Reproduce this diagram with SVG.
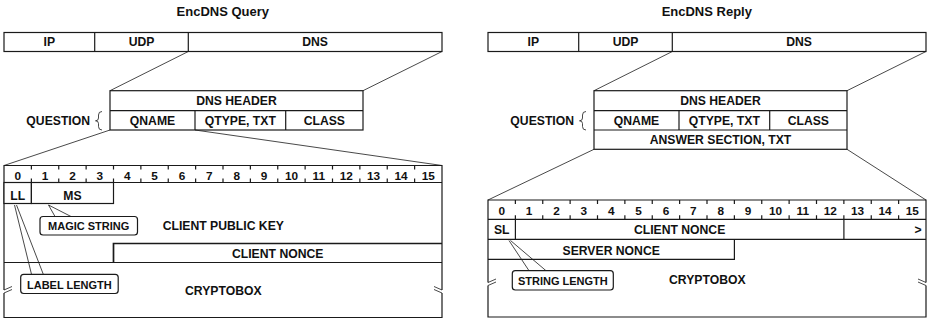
<svg xmlns="http://www.w3.org/2000/svg" width="928" height="320" viewBox="0 0 928 320">
<style>
.ln{stroke:#1a1a1a;fill:none;stroke-width:1.2}
.bx{stroke:#1a1a1a;fill:#fff;stroke-width:1.2}
.th{stroke:#1a1a1a;fill:none;stroke-width:0.8}
.tk{stroke:#1a1a1a;fill:none;stroke-width:1.2}
.hv{stroke:#1a1a1a;fill:none;stroke-width:1.7}
.t{font-family:"Liberation Sans",Arial,Helvetica,sans-serif;font-weight:bold;font-size:12.2px;text-anchor:middle;fill:#111}
.ti{font-size:13px}
.n{font-size:11.8px}
.s{font-size:11px}
.e{text-anchor:end}
</style>
<rect width="928" height="320" fill="#fff"/>

<!-- ================= QUERY ================= -->
<g id="query-title"><text class="t ti" x="222.8" y="16">EncDNS Query</text></g>
<g id="query-packet">
  <rect class="bx" x="4" y="32.5" width="438" height="19"/>
  <line class="ln" x1="94.7" y1="32.5" x2="94.7" y2="51.5"/>
  <line class="ln" x1="188.3" y1="32.5" x2="188.3" y2="51.5"/>
  <text class="t" x="49.3" y="46.3">IP</text>
  <text class="t" x="141.5" y="46.3">UDP</text>
  <text class="t" x="315" y="46.3">DNS</text>
</g>
<g id="query-dns">
  <rect class="bx" x="110" y="90.7" width="253" height="39.3"/>
  <line class="ln" x1="110" y1="110.7" x2="363" y2="110.7"/>
  <line class="ln" x1="195" y1="110.7" x2="195" y2="130"/>
  <line class="ln" x1="285.7" y1="110.7" x2="285.7" y2="130"/>
  <text class="t" x="236.5" y="105">DNS HEADER</text>
  <text class="t" x="152.5" y="124.6">QNAME</text>
  <text class="t" x="240.3" y="124.6">QTYPE, TXT</text>
  <text class="t" x="324.3" y="124.6">CLASS</text>
</g>
<g id="query-question">
  <text class="t e" x="90" y="124.6">QUESTION</text>
  <path class="th" d="M102,111.5 Q98.5,111.5 98.5,115 L98.5,118 Q98.5,120.8 95.5,120.8 Q98.5,120.8 98.5,123.6 L98.5,126.6 Q98.5,130 102,130"/>
</g>
<g id="query-qname">
  <path class="ln" d="M4,290 V165.5 H442 V290 M4,293 V317.5 H442 V293"/>
  <path class="th" d="M4,290 L12,286.5 M4,293 L12,289.5 M442,290 L434,286.5 M442,293 L434,289.5"/>
  <line class="ln" x1="4" y1="182.5" x2="442" y2="182.5"/>
  <path class="tk" d="M31.375,165.5v4M58.75,165.5v4M86.125,165.5v4M113.5,165.5v4M140.875,165.5v4M168.25,165.5v4M195.625,165.5v4M223,165.5v4M250.375,165.5v4M277.75,165.5v4M305.125,165.5v4M332.5,165.5v4M359.875,165.5v4M387.25,165.5v4M414.625,165.5v4M31.375,182.5v-4M58.75,182.5v-4M86.125,182.5v-4M113.5,182.5v-4M140.875,182.5v-4M168.25,182.5v-4M195.625,182.5v-4M223,182.5v-4M250.375,182.5v-4M277.75,182.5v-4M305.125,182.5v-4M332.5,182.5v-4M359.875,182.5v-4M387.25,182.5v-4M414.625,182.5v-4"/>
  <g class="t n">
    <text x="17.69" y="179.5">0</text><text x="45.06" y="179.5">1</text><text x="72.44" y="179.5">2</text><text x="99.81" y="179.5">3</text>
    <text x="127.19" y="179.5">4</text><text x="154.56" y="179.5">5</text><text x="181.94" y="179.5">6</text><text x="209.31" y="179.5">7</text>
    <text x="236.69" y="179.5">8</text><text x="264.06" y="179.5">9</text><text x="291.44" y="179.5">10</text><text x="318.81" y="179.5">11</text>
    <text x="346.19" y="179.5">12</text><text x="373.56" y="179.5">13</text><text x="400.94" y="179.5">14</text><text x="428.31" y="179.5">15</text>
  </g>
</g>
<g id="query-ll">
  <rect class="bx" x="4" y="182.5" width="27.4" height="21"/>
  <text class="t" x="17.7" y="200">LL</text>
</g>
<g id="query-ms">
  <rect class="bx" x="31.4" y="182.5" width="82.1" height="21"/>
  <text class="t" x="72.5" y="200">MS</text>
</g>
<g id="query-pubkey"><text class="t" x="223.3" y="230">CLIENT PUBLIC KEY</text></g>
<g id="query-nonce">
  <path class="hv" d="M113.5,262.5 V243.5 H442"/>
  <line class="ln" x1="4" y1="262.5" x2="442" y2="262.5"/>
  <text class="t" x="277.7" y="258">CLIENT NONCE</text>
</g>
<g id="query-cryptobox"><text class="t" x="223.3" y="295">CRYPTOBOX</text></g>
<g id="query-magic-label">
  <rect class="bx" x="40" y="216.5" width="97.5" height="18.5" rx="3"/>
  <text class="t s" x="88.7" y="230">MAGIC STRING</text>
</g>
<g id="query-length-label">
  <rect class="bx" x="20.7" y="274.3" width="97.5" height="19.2" rx="3"/>
  <text class="t s" x="69.4" y="288.5">LABEL LENGTH</text>
</g>

<!-- ================= REPLY ================= -->
<g id="reply-title"><text class="t ti" x="706.8" y="16">EncDNS Reply</text></g>
<g id="reply-packet">
  <rect class="bx" x="488" y="32.5" width="438" height="19"/>
  <line class="ln" x1="578.7" y1="32.5" x2="578.7" y2="51.5"/>
  <line class="ln" x1="672.3" y1="32.5" x2="672.3" y2="51.5"/>
  <text class="t" x="533.3" y="46.3">IP</text>
  <text class="t" x="625.5" y="46.3">UDP</text>
  <text class="t" x="799" y="46.3">DNS</text>
</g>
<g id="reply-dns">
  <rect class="bx" x="594" y="90.7" width="253" height="58.6"/>
  <line class="ln" x1="594" y1="110.7" x2="847" y2="110.7"/>
  <line class="ln" x1="594" y1="130" x2="847" y2="130"/>
  <line class="ln" x1="679" y1="110.7" x2="679" y2="130"/>
  <line class="ln" x1="769.7" y1="110.7" x2="769.7" y2="130"/>
  <text class="t" x="720.5" y="105">DNS HEADER</text>
  <text class="t" x="636.5" y="124.6">QNAME</text>
  <text class="t" x="724.3" y="124.6">QTYPE, TXT</text>
  <text class="t" x="808.3" y="124.6">CLASS</text>
  <text class="t" x="720.5" y="144">ANSWER SECTION, TXT</text>
</g>
<g id="reply-question">
  <text class="t e" x="574" y="124.6">QUESTION</text>
  <path class="th" d="M586,111.5 Q582.5,111.5 582.5,115 L582.5,118 Q582.5,120.8 579.5,120.8 Q582.5,120.8 582.5,123.6 L582.5,126.6 Q582.5,130 586,130"/>
</g>
<g id="reply-txt">
  <path class="ln" d="M488,282.5 V200 H926 V282.5 M488,285.5 V317 H926 V285.5"/>
  <path class="th" d="M488,282.5 L496,279 M488,285.5 L496,282 M926,282.5 L918,279 M926,285.5 L918,282"/>
  <line class="ln" x1="488" y1="219.3" x2="926" y2="219.3"/>
  <line class="ln" x1="488" y1="239.3" x2="926" y2="239.3"/>
  <path class="tk" d="M515.375,200v4M542.75,200v4M570.125,200v4M597.5,200v4M624.875,200v4M652.25,200v4M679.625,200v4M707,200v4M734.375,200v4M761.75,200v4M789.125,200v4M816.5,200v4M843.875,200v4M871.25,200v4M898.625,200v4M515.375,219.3v-4M542.75,219.3v-4M570.125,219.3v-4M597.5,219.3v-4M624.875,219.3v-4M652.25,219.3v-4M679.625,219.3v-4M707,219.3v-4M734.375,219.3v-4M761.75,219.3v-4M789.125,219.3v-4M816.5,219.3v-4M843.875,219.3v-4M871.25,219.3v-4M898.625,219.3v-4"/>
  <g class="t n">
    <text x="501.69" y="214.5">0</text><text x="529.06" y="214.5">1</text><text x="556.44" y="214.5">2</text><text x="583.81" y="214.5">3</text>
    <text x="611.19" y="214.5">4</text><text x="638.56" y="214.5">5</text><text x="665.94" y="214.5">6</text><text x="693.31" y="214.5">7</text>
    <text x="720.69" y="214.5">8</text><text x="748.06" y="214.5">9</text><text x="775.44" y="214.5">10</text><text x="802.81" y="214.5">11</text>
    <text x="830.19" y="214.5">12</text><text x="857.56" y="214.5">13</text><text x="884.94" y="214.5">14</text><text x="912.31" y="214.5">15</text>
  </g>
  <text class="t" x="918" y="234">&gt;</text>
</g>
<g id="reply-sl">
  <line class="ln" x1="515.4" y1="219.3" x2="515.4" y2="239.3"/>
  <text class="t" x="501.7" y="234">SL</text>
</g>
<g id="reply-client-nonce">
  <line class="ln" x1="843.9" y1="219.3" x2="843.9" y2="239.3"/>
  <text class="t" x="679.6" y="234">CLIENT NONCE</text>
</g>
<g id="reply-server-nonce">
  <path class="ln" d="M488,259.3 H734.4 V239.3"/>
  <text class="t" x="611.2" y="254.5">SERVER NONCE</text>
</g>
<g id="reply-cryptobox"><text class="t" x="707.3" y="283.5">CRYPTOBOX</text></g>
<g id="reply-length-label">
  <rect class="bx" x="512.3" y="270.7" width="101" height="19.3" rx="3"/>
  <text class="t s" x="562.8" y="285">STRING LENGTH</text>
</g>

<!-- ================= CONNECTORS ================= -->
<g id="connectors" class="th">
  <line x1="188.3" y1="51.5" x2="110" y2="90.7"/>
  <line x1="442" y1="51.5" x2="363" y2="90.7"/>
  <line x1="110" y1="130" x2="4" y2="165.5"/>
  <line x1="195" y1="130" x2="442" y2="165.5"/>
  <line x1="48.5" y1="205" x2="55" y2="216.5"/>
  <line x1="48.5" y1="205" x2="71" y2="216.5"/>
  <line x1="14.5" y1="205" x2="31.5" y2="274.3"/>
  <line x1="16.5" y1="205" x2="43.3" y2="274.3"/>
  <line x1="672.3" y1="51.5" x2="594" y2="90.7"/>
  <line x1="926" y1="51.5" x2="847" y2="90.7"/>
  <line x1="594" y1="149.3" x2="488" y2="200"/>
  <line x1="847" y1="149.3" x2="926" y2="200"/>
  <line x1="509" y1="240.5" x2="529" y2="270.7"/>
  <line x1="510.5" y1="240.5" x2="546" y2="270.7"/>
</g>
</svg>
